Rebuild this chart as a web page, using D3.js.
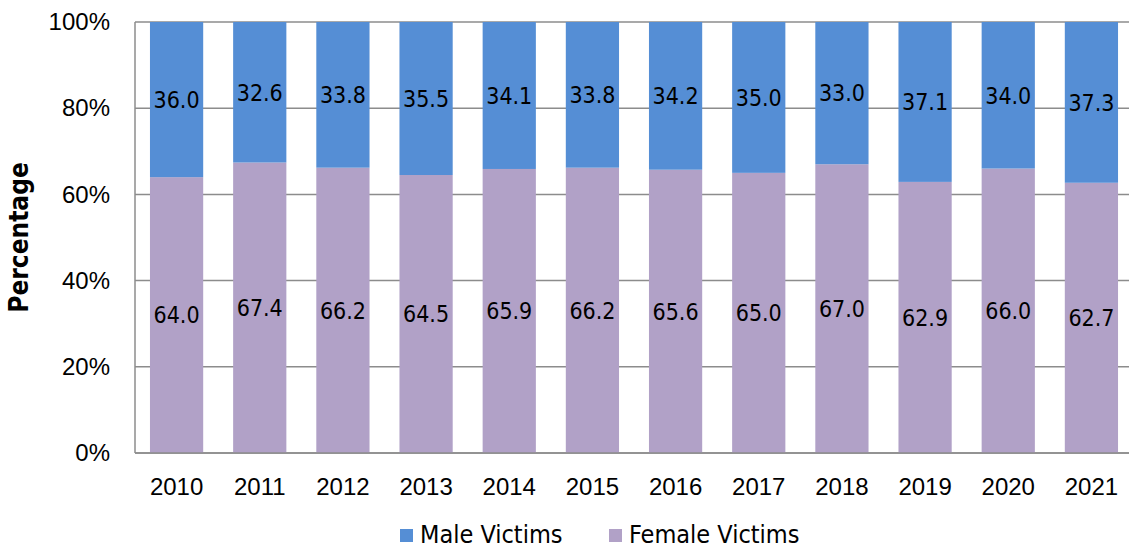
<!DOCTYPE html>
<html>
<head>
<meta charset="utf-8">
<script src="https://cdn.jsdelivr.net/npm/d3@7"></script>
<style>
	body { margin: 0; background: #fff; }
	svg { display: block; font-family: "DejaVu Sans Condensed", "DejaVu Sans", sans-serif; }
</style>
</head>
<body>
<svg width="1129" height="552"></svg>
<script>
// data
var years = ['2010', '2011', '2012', '2013', '2014', '2015', '2016', '2017', '2018', '2019', '2020', '2021'];
var maleVictims = [36.0, 32.6, 33.8, 35.5, 34.1, 33.8, 34.2, 35.0, 33.0, 37.1, 34.0, 37.3];
var femaleVictims = [64.0, 67.4, 66.2, 64.5, 65.9, 66.2, 65.6, 65.0, 67.0, 62.9, 66.0, 62.7];
var yTicks = [0, 0.2, 0.4, 0.6, 0.8, 1];

var svg = d3.select('svg'),
	width = +svg.attr('width'),
	height = +svg.attr('height');

var margin = {top: 22, right: -4, bottom: 99, left: 135};

var colors = {female: '#B1A1C7', male: '#558ED5'};

// rows for the stack, female at the bottom
var rows = years.map(function(y, i) {
	return {year: y, female: femaleVictims[i], male: maleVictims[i]};
});

var stack = d3.stack()
	.keys(['female', 'male'])
	.offset(d3.stackOffsetExpand);
var series = stack(rows);

var x = d3.scaleBand()
	.domain(years)
	.range([margin.left, width - margin.right])
	.paddingInner(0.36)
	.paddingOuter(0.18);

var y = d3.scaleLinear()
	.domain([0, 1])
	.range([height - margin.bottom, margin.top]);

// gridlines
svg.append('g')
	.selectAll('line')
	.data(yTicks)
	.enter().append('line')
	.attr('x1', margin.left)
	.attr('x2', width)
	.attr('y1', function(d) { return y(d); })
	.attr('y2', function(d) { return y(d); })
	.attr('stroke', '#8c8c8c')
	.attr('stroke-width', 1.5);

// bars
var groups = svg.append('g')
	.selectAll('g')
	.data(series)
	.enter().append('g')
	.attr('fill', function(d) { return colors[d.key]; });

groups.selectAll('rect')
	.data(function(d) { return d; })
	.enter().append('rect')
	.attr('x', function(d) { return x(d.data.year); })
	.attr('width', x.bandwidth())
	.attr('y', function(d) { return y(d[1]); })
	.attr('height', function(d) { return y(d[0]) - y(d[1]); });

// value labels in the middle of each segment
groups.selectAll('text')
	.data(function(s) {
		return s.map(function(d) { return {seg: d, key: s.key}; });
	})
	.enter().append('text')
	.attr('x', function(d) { return x(d.seg.data.year) + x.bandwidth() / 2; })
	.attr('y', function(d) { return y((d.seg[0] + d.seg[1]) / 2); })
	.attr('dy', '0.36em')
	.attr('text-anchor', 'middle')
	.attr('fill', '#000')
	.style('font-size', '23px')
	.text(function(d) { return d.seg.data[d.key].toFixed(1); });

// axis lines
svg.append('line')
	.attr('x1', margin.left).attr('x2', margin.left)
	.attr('y1', y(1)).attr('y2', y(0))
	.attr('stroke', '#8c8c8c').attr('stroke-width', 1.5);
svg.append('line')
	.attr('x1', margin.left).attr('x2', width)
	.attr('y1', y(0)).attr('y2', y(0))
	.attr('stroke', '#8c8c8c').attr('stroke-width', 1.5);

// y axis
var yAxis = svg.append('g')
	.attr('transform', 'translate(' + margin.left + ',0)')
	.call(d3.axisLeft(y).tickValues(yTicks).tickFormat(d3.format('.0%')).tickSize(0).tickPadding(25));
yAxis.select('.domain').remove();
yAxis.selectAll('text').style('font-size', '24px').attr('fill', '#000');

// x axis
var xAxis = svg.append('g')
	.attr('transform', 'translate(0,' + y(0) + ')')
	.call(d3.axisBottom(x).tickSize(0).tickPadding(25));
xAxis.select('.domain').remove();
xAxis.selectAll('text').style('font-size', '24px').attr('fill', '#000');

// y title
svg.append('text')
	.attr('transform', 'translate(28,' + (margin.top + (y(0) - y(1)) / 2) + ') rotate(-90)')
	.attr('text-anchor', 'middle')
	.style('font-size', '26px')
	.style('font-weight', 'bold')
	.text('Percentage');

// legend
var legendItems = [
	{label: 'Male Victims', key: 'male', x: 400},
	{label: 'Female Victims', key: 'female', x: 609}
];
var legend = svg.append('g')
	.selectAll('g')
	.data(legendItems)
	.enter().append('g')
	.attr('transform', function(d) { return 'translate(' + d.x + ',529)'; });
legend.append('rect')
	.attr('width', 13)
	.attr('height', 13)
	.attr('fill', function(d) { return colors[d.key]; });
legend.append('text')
	.attr('x', 20)
	.attr('y', 14)
	.style('font-size', '25px')
	.text(function(d) { return d.label; });
</script>
</body>
</html>
